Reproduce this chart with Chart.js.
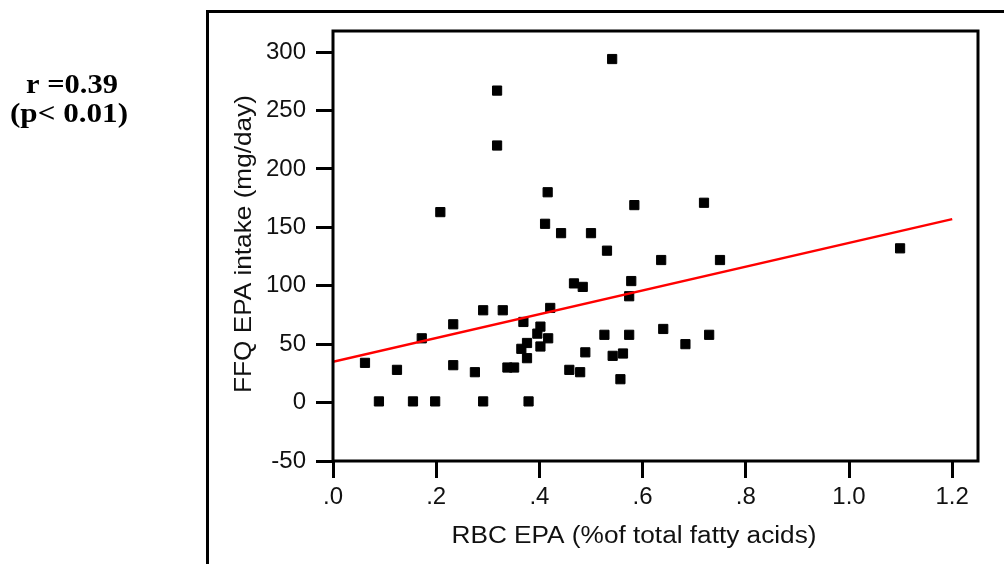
<!DOCTYPE html>
<html>
<head>
<meta charset="utf-8">
<script src="https://cdn.jsdelivr.net/npm/chart.js@4"></script>
<style>
  html, body { margin: 0; padding: 0; background: #fff; }
  #wrap { width: 1004px; height: 564px; position: relative; }
</style>
</head>
<body>
<div id="wrap"><canvas id="chartEPA"></canvas></div>
<script>
// RBC EPA (% of total fatty acids) vs FFQ EPA intake (mg/day)
const rbcEpa = [0.062, 0.089, 0.124, 0.155, 0.172, 0.198, 0.208, 0.233, 0.233, 0.275,
                0.291, 0.291, 0.318, 0.318, 0.329, 0.338, 0.351, 0.365, 0.369, 0.376,
                0.376, 0.379, 0.396, 0.402, 0.402, 0.411, 0.417, 0.416, 0.421, 0.442,
                0.458, 0.467, 0.479, 0.484, 0.489, 0.500, 0.526, 0.531, 0.541, 0.542,
                0.562, 0.557, 0.574, 0.574, 0.578, 0.584, 0.636, 0.640, 0.683, 0.719,
                0.729, 0.750, 1.099];
const ffqEpa = [34, 1, 28, 1, 55, 1, 163, 67, 32, 26,
                79, 1, 267, 220, 79, 30, 30, 46, 69, 51,
                38, 1, 59, 65, 48, 153, 55, 180, 81, 145,
                28, 102, 26, 99, 43, 145, 58, 130, 294, 40,
                42, 20, 91, 58, 104, 169, 122, 63, 50, 171,
                58, 122, 132];

// fitted regression line
const fitX = [0, 1.2];
const fitY = [35, 157];

const xTicks = [0, 0.2, 0.4, 0.6, 0.8, 1.0, 1.2];
const xTickLabels = [".0", ".2", ".4", ".6", ".8", "1.0", "1.2"];
const yTicks = [-50, 0, 50, 100, 150, 200, 250, 300];

const xTitle = "RBC EPA (%of total fatty acids)";
const yTitle = "FFQ EPA intake (mg/day)";
const statLines = ["r =0.39", "(p< 0.01)"];

// draw text squeezed/stretched to a given width
function fitText(ctx, text, x, y, width) {
    const w = ctx.measureText(text).width;
    ctx.save();
    ctx.translate(x, y);
    ctx.scale(width / w, 1);
    ctx.textAlign = "center";
    ctx.fillText(text, 0, 0);
    ctx.restore();
}

const framePlugin = {
    id: "frame",
    afterDraw(chart) {
        const { ctx, chartArea: a } = chart;
        ctx.save();
        ctx.strokeStyle = "#000";
        ctx.lineWidth = 3;
        ctx.strokeRect(a.left, a.top, a.right - a.left, a.bottom - a.top);

        // outer panel frame (cut off at right and bottom)
        ctx.beginPath();
        ctx.moveTo(207.5, 600);
        ctx.lineTo(207.5, 11.5);
        ctx.lineTo(1010, 11.5);
        ctx.stroke();

        ctx.fillStyle = "#111";
        ctx.textBaseline = "alphabetic";
        ctx.font = "23px 'Liberation Sans', Arial, sans-serif";
        fitText(ctx, xTitle, 634, 543, 365);

        ctx.save();
        ctx.translate(251, 244);
        ctx.rotate(-Math.PI / 2);
        ctx.font = "24px 'Liberation Sans', Arial, sans-serif";
        fitText(ctx, yTitle, 0, 0, 298);
        ctx.restore();

        ctx.fillStyle = "#000";
        ctx.font = "bold 28px 'Liberation Serif', 'Times New Roman', serif";
        fitText(ctx, statLines[0], 72, 93, 92);
        fitText(ctx, statLines[1], 69, 122, 118);
        ctx.restore();
    }
};

const tickFont = { family: "'Liberation Sans', Arial, sans-serif", size: 24 };
const gridOpts = {
    drawOnChartArea: false,
    drawTicks: true,
    tickLength: 17,
    tickWidth: 3,
    tickColor: "#000",
    color: "#000",
    lineWidth: 3
};

new Chart(document.getElementById("chartEPA"), {
    type: "scatter",
    data: {
        datasets: [
            {
                type: "line",
                label: "fit",
                data: fitX.map((x, i) => ({ x: x, y: fitY[i] })),
                borderColor: "#ff0000",
                borderWidth: 2.5,
                pointRadius: 0,
                fill: false,
                order: 0
            },
            {
                label: "subjects",
                data: rbcEpa.map((x, i) => ({ x: x, y: ffqEpa[i] })),
                pointStyle: "rect",
                pointRadius: 6.5,
                pointBorderWidth: 1,
                backgroundColor: "#000",
                borderColor: "#000",
                order: 1
            }
        ]
    },
    options: {
        responsive: true,
        maintainAspectRatio: false,
        animation: false,
        layout: { padding: { left: 0, top: 31, right: 26, bottom: 0 } },
        plugins: {
            legend: { display: false },
            tooltip: { enabled: false }
        },
        scales: {
            x: {
                type: "linear",
                min: 0,
                max: 1.25,
                afterBuildTicks: s => { s.ticks = xTicks.map(v => ({ value: v })); },
                afterFit: s => { s.height = 103; },
                grid: gridOpts,
                border: { display: false },
                ticks: {
                    autoSkip: false,
                    maxRotation: 0,
                    padding: 5,
                    color: "#111",
                    font: tickFont,
                    callback: (v, i) => xTickLabels[i]
                }
            },
            y: {
                type: "linear",
                min: -50,
                max: 318,
                afterBuildTicks: s => { s.ticks = yTicks.map(v => ({ value: v })); },
                afterFit: s => { s.width = 333; },
                grid: gridOpts,
                border: { display: false },
                ticks: {
                    autoSkip: false,
                    padding: 10,
                    color: "#111",
                    font: tickFont
                }
            }
        }
    },
    plugins: [framePlugin]
});
</script>
</body>
</html>
